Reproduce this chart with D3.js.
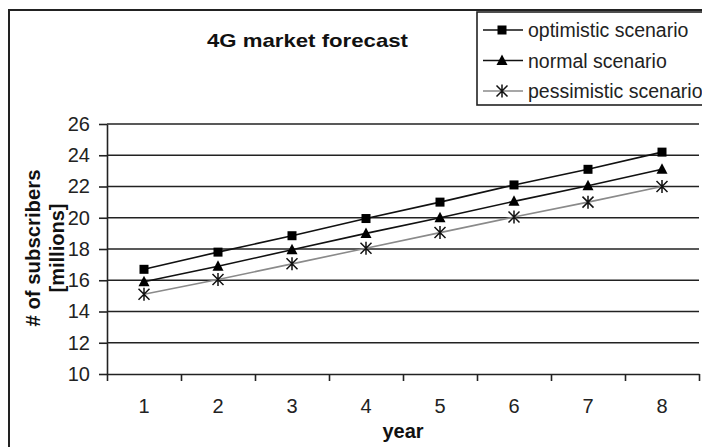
<!DOCTYPE html>
<html>
<head>
<meta charset="utf-8">
<script src="https://cdn.jsdelivr.net/npm/d3@7/dist/d3.min.js"></script>
<style>
  html, body { margin: 0; padding: 0; background: #fff; }
  svg { display: block; font-family: "Liberation Sans", Arial, sans-serif; }
</style>
</head>
<body>
<svg id="chart" width="702" height="447"></svg>
<script>
// Forecast data: subscribers in millions per year, three scenarios
const years = ["1", "2", "3", "4", "5", "6", "7", "8"];
const optimistic  = [16.7, 17.8, 18.85, 19.95, 21.0, 22.1, 23.1, 24.2];
const normal      = [15.9, 16.9, 17.95, 19.0, 20.0, 21.05, 22.05, 23.1];
const pessimistic = [15.1, 16.05, 17.05, 18.05, 19.05, 20.05, 21.0, 22.0];
const yTicks = [10, 12, 14, 16, 18, 20, 22, 24, 26];
const seriesNames = ["optimistic scenario", "normal scenario", "pessimistic scenario"];

const svg = d3.select("#chart");
const plot = { left: 107, right: 699, top: 124, bottom: 374 };

const x = d3.scaleBand().domain(years).range([plot.left, plot.right]).padding(0);
const xEdges = d3.scaleLinear().domain([0, years.length]).range([plot.left, plot.right]);
const y = d3.scaleLinear().domain([10, 26]).range([plot.bottom, plot.top]);

// Outer chart frame
svg.append("rect")
  .attr("x", 9).attr("y", 10).attr("width", 720).attr("height", 460)
  .attr("fill", "none").attr("stroke", "#222").attr("stroke-width", 2);

// Horizontal gridlines
svg.append("g").selectAll("line").data(yTicks.slice(1)).join("line")
  .attr("x1", plot.left).attr("x2", plot.right)
  .attr("y1", d => y(d)).attr("y2", d => y(d))
  .attr("stroke", "#222").attr("stroke-width", 1.6);

// Y axis
const yAxis = svg.append("g")
  .attr("transform", `translate(${plot.left},0)`)
  .call(d3.axisLeft(y).tickValues(yTicks).tickSize(8).tickPadding(9).tickSizeOuter(0));
yAxis.selectAll("line, path").attr("stroke", "#222").attr("stroke-width", 1.6);
yAxis.selectAll("text").attr("font-size", 20).attr("fill", "#222")
  .attr("font-family", "'Liberation Sans', Arial, sans-serif");

// X axis: tick marks at category boundaries
const xTickAxis = svg.append("g")
  .attr("transform", `translate(0,${plot.bottom})`)
  .call(d3.axisBottom(xEdges).tickValues(d3.range(0, years.length + 1)).tickFormat("").tickSize(7).tickSizeOuter(0));
xTickAxis.selectAll("line, path").attr("stroke", "#222").attr("stroke-width", 1.6);

// X axis: category labels at band centres
const xLabelAxis = svg.append("g")
  .attr("transform", `translate(0,${plot.bottom})`)
  .call(d3.axisBottom(x).tickSize(0).tickPadding(25));
xLabelAxis.select(".domain").remove();
xLabelAxis.selectAll("text").attr("font-size", 20).attr("fill", "#222")
  .attr("font-family", "'Liberation Sans', Arial, sans-serif");

// Series
const series = [
  { name: seriesNames[0], values: optimistic,  line: "#111", marker: "square" },
  { name: seriesNames[1], values: normal,      line: "#111", marker: "triangle" },
  { name: seriesNames[2], values: pessimistic, line: "#8a8a8a", marker: "asterisk" }
];

const cx = d => x(d) + x.bandwidth() / 2;
const line = d3.line().x((v, i) => cx(years[i])).y(v => y(v));

function drawMarker(g, type) {
  if (type === "square") {
    g.append("rect").attr("x", -4.5).attr("y", -4.5).attr("width", 9).attr("height", 9).attr("fill", "#000");
  } else if (type === "triangle") {
    g.append("path").attr("d", "M0,-6L5.5,4.5L-5.5,4.5Z").attr("fill", "#000");
  } else {
    g.append("path").attr("d", "M0,-6.5V6.5M-5.5,-5.5L5.5,5.5M-5.5,5.5L5.5,-5.5")
      .attr("stroke", "#111").attr("stroke-width", 1.5).attr("fill", "none");
  }
}

series.forEach(s => {
  svg.append("path").datum(s.values)
    .attr("d", line).attr("fill", "none")
    .attr("stroke", s.line).attr("stroke-width", 1.6);
  svg.append("g").selectAll("g").data(s.values).join("g")
    .attr("transform", (v, i) => `translate(${cx(years[i])},${y(v)})`)
    .each(function () { drawMarker(d3.select(this), s.marker); });
});

// Title
svg.append("text")
  .attr("x", 207).attr("y", 47)
  .attr("font-size", 19).attr("font-weight", "bold").attr("fill", "#111")
  .attr("textLength", 201).attr("lengthAdjust", "spacingAndGlyphs")
  .text("4G market forecast");

// Axis titles
svg.append("text")
  .attr("transform", "translate(40,248) rotate(-90)")
  .attr("text-anchor", "middle")
  .attr("font-size", 20).attr("font-weight", "bold").attr("fill", "#111")
  .attr("textLength", 157).attr("lengthAdjust", "spacingAndGlyphs")
  .text("# of subscribers");
svg.append("text")
  .attr("transform", "translate(64,248) rotate(-90)")
  .attr("text-anchor", "middle")
  .attr("font-size", 20).attr("font-weight", "bold").attr("fill", "#111")
  .attr("textLength", 89).attr("lengthAdjust", "spacingAndGlyphs")
  .text("[millions]");
svg.append("text")
  .attr("x", (plot.left + plot.right) / 2).attr("y", 438)
  .attr("text-anchor", "middle")
  .attr("font-size", 20).attr("font-weight", "bold").attr("fill", "#111")
  .text("year");

// Legend
const legend = svg.append("g");
legend.append("rect")
  .attr("x", 477).attr("y", 12).attr("width", 260).attr("height", 93)
  .attr("fill", "#fff").attr("stroke", "#222").attr("stroke-width", 1.6);
series.forEach((s, i) => {
  const ly = 30 + i * 30.5;
  const row = legend.append("g").attr("transform", `translate(0,${ly})`);
  row.append("line").attr("x1", 483).attr("x2", 523).attr("y1", 0).attr("y2", 0)
    .attr("stroke", s.line).attr("stroke-width", 1.6);
  drawMarker(row.append("g").attr("transform", "translate(502,0)"), s.marker);
  row.append("text").attr("x", 528).attr("y", 7)
    .attr("font-size", 19.5).attr("fill", "#222")
    .text(s.name);
});
</script>
</body>
</html>
